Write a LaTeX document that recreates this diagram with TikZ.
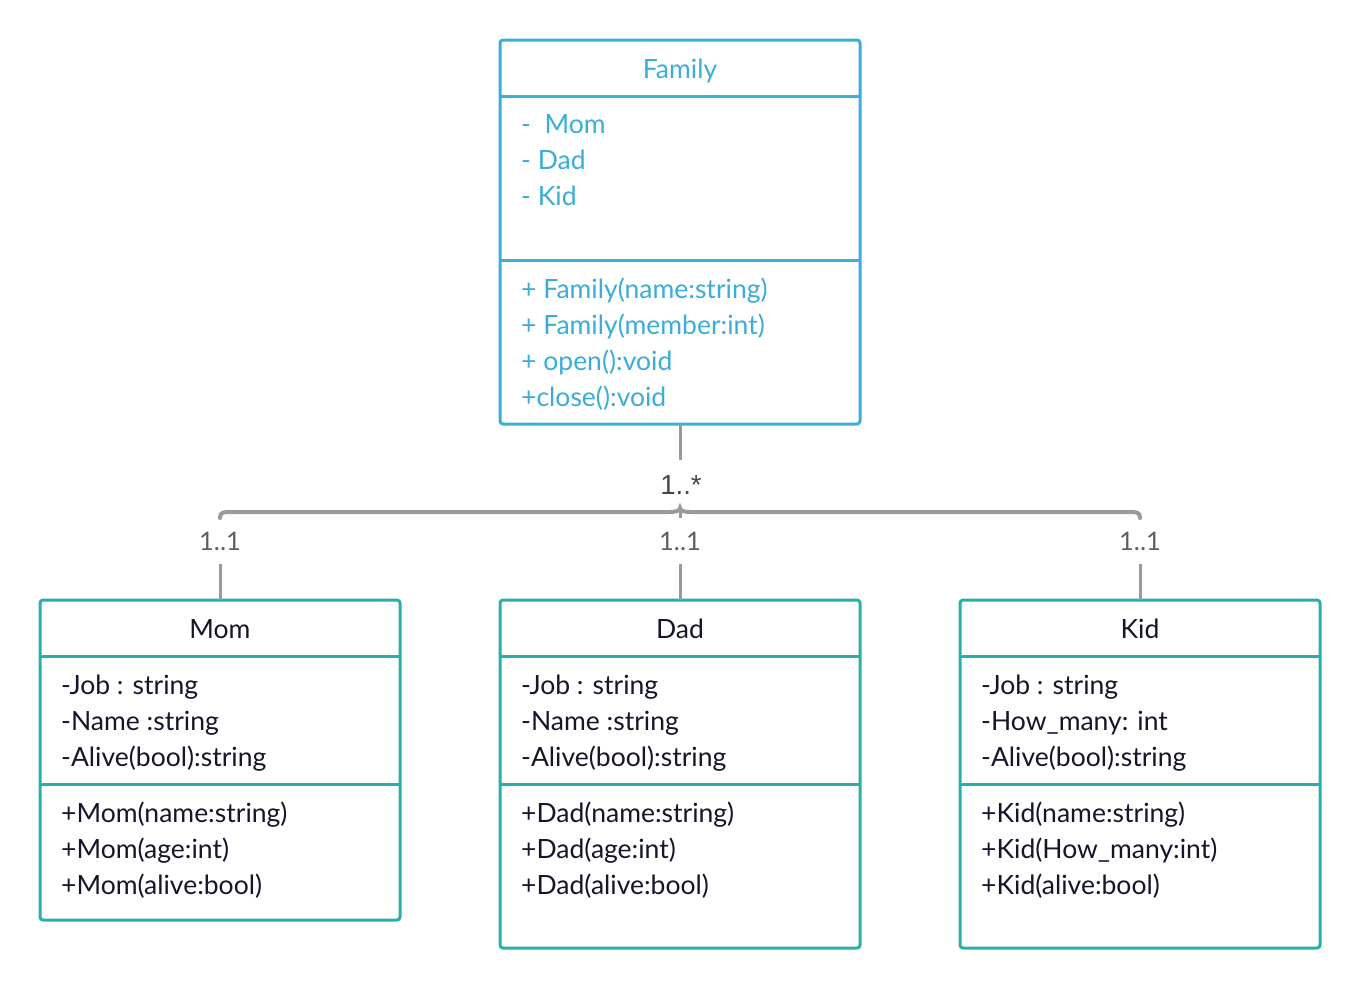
\documentclass[tikz,border=0pt]{standalone}
\usepackage{fontspec}
\setmainfont{Lato}
\newfontfamily\starfont{Liberation Sans}
\definecolor{famblue}{HTML}{3AADD9}
\definecolor{teal}{HTML}{27B0AA}
\definecolor{navy}{HTML}{16152B}
\definecolor{conngray}{HTML}{9A9A9A}
\definecolor{labgray}{HTML}{5E5E5E}
\definecolor{stargray}{HTML}{454545}
\tikzset{
  famclass/.style={draw=famblue, line width=3pt, rounded corners=3pt, fill=white, inner sep=0pt, outer sep=0pt},
  kidclass/.style={draw=teal, line width=3pt, rounded corners=3pt, fill=white, inner sep=0pt, outer sep=0pt},
  famdiv/.style={draw=famblue, line width=3pt},
  kiddiv/.style={draw=teal, line width=3pt},
  famtxt/.style={text=famblue, font=\fontsize{26.5}{30}\selectfont, inner sep=0pt, anchor=base west},
  famtitle/.style={text=famblue, font=\fontsize{26.5}{30}\selectfont, inner sep=0pt, anchor=base},
  ctxt/.style={text=navy, font=\fontsize{26.5}{30}\selectfont, inner sep=0pt, anchor=base west},
  ctitle/.style={text=navy, font=\fontsize{26.5}{30}\selectfont, inner sep=0pt, anchor=base},
  conn/.style={draw=conngray, line width=3pt},
  brace/.style={draw=conngray, line width=4pt},
  multlab/.style={text=labgray, font=\fontsize{25.5}{30}\selectfont, inner sep=0pt},
  starlab/.style={text=stargray, font=\starfont\fontsize{27.5}{30}\selectfont, inner sep=0pt, anchor=base},
}
\begin{document}
\begin{tikzpicture}[x=1pt,y=-1pt]
\useasboundingbox (0,0) rectangle (1360,989);
% ---------- Family ----------
\node[famclass, minimum width=360pt, minimum height=384pt] (fam) at (680,232) {};
\draw[famdiv] (500,96) -- (860,96);
\draw[famdiv] (500,260) -- (860,260);
\node[famtitle] (famt) at (680,78) {Family};
\node[famtxt] (fa1) at (521,133) {-\ \ Mom};
\node[famtxt] (fa2) at (521,169) {- Dad};
\node[famtxt] (fa3) at (521,205) {- Kid};
\node[famtxt] (fm1) at (521,298) {+ Family(name:string)};
\node[famtxt] (fm2) at (521,334) {+ Family(member:int)};
\node[famtxt] (fm3) at (521,370) {+ open():void};
\node[famtxt] (fm4) at (521,406) {+close():void};
% ---------- Mom ----------
\node[kidclass, minimum width=360pt, minimum height=320pt] (mom) at (220,760) {};
\draw[kiddiv] (40,656) -- (400,656);
\draw[kiddiv] (40,784) -- (400,784);
\node[ctitle] (momt) at (220,638) {Mom};
\node[ctxt] (ma1) at (61,694) {-Job : string};
\node[ctxt] (ma2) at (61,730) {-Name :string};
\node[ctxt] (ma3) at (61,766) {-Alive(bool):string};
\node[ctxt] (mm1) at (61,822) {+Mom(name:string)};
\node[ctxt] (mm2) at (61,858) {+Mom(age:int)};
\node[ctxt] (mm3) at (61,894) {+Mom(alive:bool)};
% ---------- Dad ----------
\node[kidclass, minimum width=360pt, minimum height=348pt] (dad) at (680,774) {};
\draw[kiddiv] (500,656) -- (860,656);
\draw[kiddiv] (500,784) -- (860,784);
\node[ctitle] (dadt) at (680,638) {Dad};
\node[ctxt] (da1) at (521,694) {-Job : string};
\node[ctxt] (da2) at (521,730) {-Name :string};
\node[ctxt] (da3) at (521,766) {-Alive(bool):string};
\node[ctxt] (dm1) at (521,822) {+Dad(name:string)};
\node[ctxt] (dm2) at (521,858) {+Dad(age:int)};
\node[ctxt] (dm3) at (521,894) {+Dad(alive:bool)};
% ---------- Kid ----------
\node[kidclass, minimum width=360pt, minimum height=348pt] (kid) at (1140,774) {};
\draw[kiddiv] (960,656) -- (1320,656);
\draw[kiddiv] (960,784) -- (1320,784);
\node[ctitle] (kidt) at (1140,638) {Kid};
\node[ctxt] (ka1) at (981,694) {-Job : string};
\node[ctxt] (ka2) at (981,730) {-How\_many: int};
\node[ctxt] (ka3) at (981,766) {-Alive(bool):string};
\node[ctxt] (km1) at (981,822) {+Kid(name:string)};
\node[ctxt] (km2) at (981,858) {+Kid(How\_many:int)};
\node[ctxt] (km3) at (981,894) {+Kid(alive:bool)};
% ---------- connectors ----------
\coordinate (famstem) at (680,460);
\draw[conn] (fam.south) -- (famstem);
\node[starlab] (star) at (681,494) {1..*};
\coordinate (bl) at (220,518);
\coordinate (bm) at (680,508);
\coordinate (br) at (1140,518);
\draw[brace, line cap=round] (bl) .. controls (220,512) and (223,512) .. (232,512) -- (668,512)
   .. controls (676,512) and (680,511) .. (bm)
   .. controls (680,511) and (684,512) .. (692,512) -- (1128,512)
   .. controls (1137,512) and (1140,512) .. (br);
\coordinate (bmlow) at (680,518);
\draw[conn] (680,512) -- (bmlow);
\node[multlab] (lm) at (220,541) {1..1};
\node[multlab] (ld) at (680,541) {1..1};
\node[multlab] (lk) at (1140,541) {1..1};
\coordinate (momstem) at (220,564);
\coordinate (dadstem) at (680,564);
\coordinate (kidstem) at (1140,564);
\draw[conn] (momstem) -- (mom.north);
\draw[conn] (dadstem) -- (dad.north);
\draw[conn] (kidstem) -- (kid.north);
\end{tikzpicture}
\end{document}
